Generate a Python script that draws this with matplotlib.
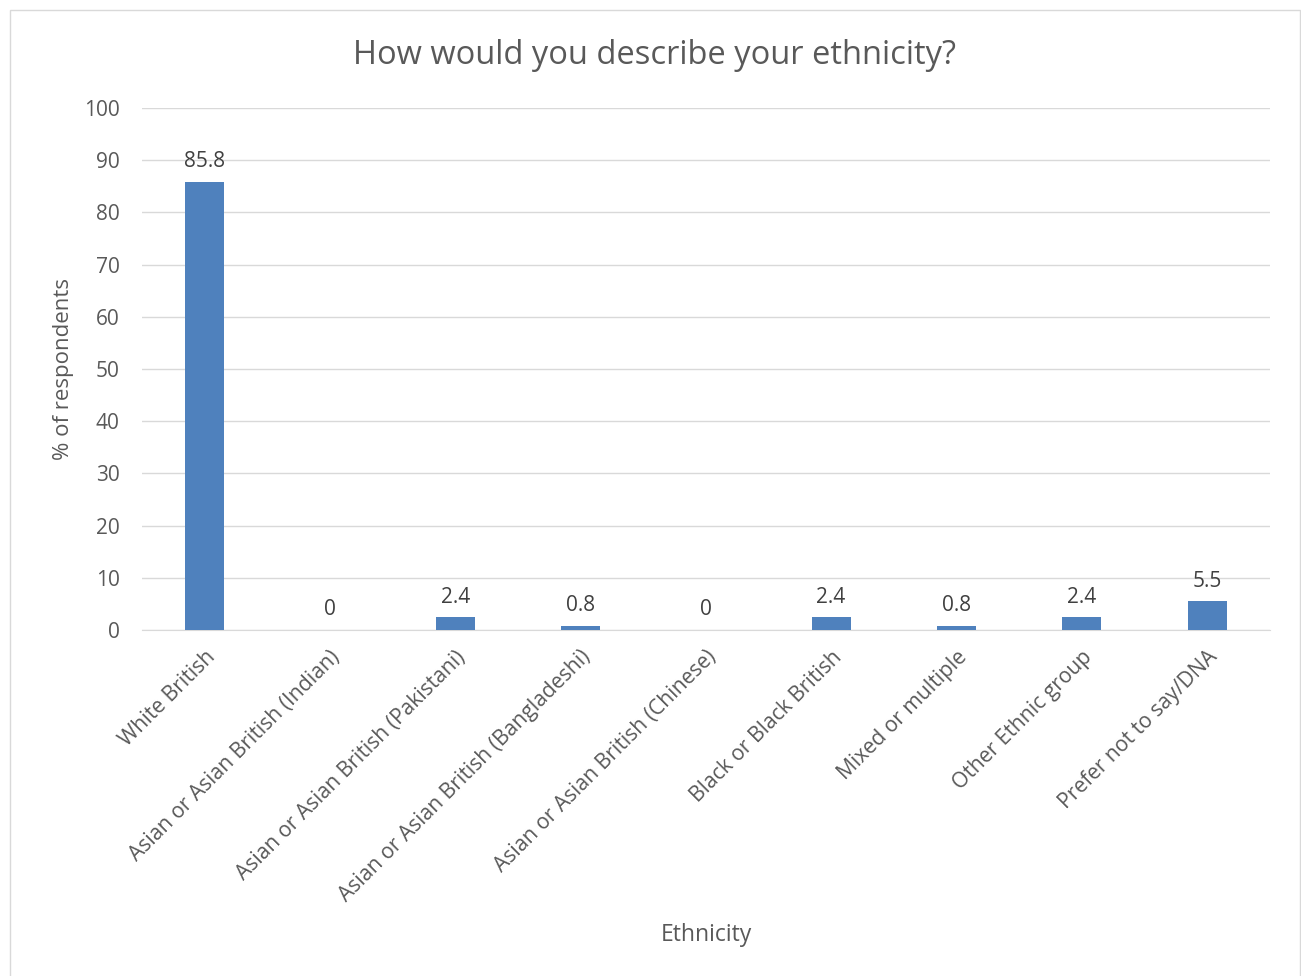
import matplotlib
matplotlib.use("Agg")
import matplotlib.pyplot as plt
from matplotlib.patches import Rectangle

# data
categories = ["White British", "Asian or Asian British (Indian)",
              "Asian or Asian British (Pakistani)", "Asian or Asian British (Bangladeshi)",
              "Asian or Asian British (Chinese)", "Black or Black British",
              "Mixed or multiple", "Other Ethnic group", "Prefer not to say/DNA"]
values = [85.8, 0, 2.4, 0.8, 0, 2.4, 0.8, 2.4, 5.5]
labels = ["85.8", "0", "2.4", "0.8", "0", "2.4", "0.8", "2.4", "5.5"]
yticks = [0, 10, 20, 30, 40, 50, 60, 70, 80, 90, 100]

plt.rcParams['font.family'] = ['Open Sans', 'DejaVu Sans']
txt = '#595959'

fig = plt.figure(figsize=(13.01, 9.76), dpi=100)
fig.patches.append(Rectangle((0.0077, -0.01), 0.9915, 1.0, transform=fig.transFigure,
                             fill=False, edgecolor='#D9D9D9', linewidth=1))
ax = fig.add_axes([0.109, 0.3545, 0.867, 0.5348])

x = range(len(categories))
ax.bar(x, values, width=0.31, color='#4F81BD', zorder=3)
for i, v in enumerate(values):
    ax.annotate(labels[i], (i, v), xytext=(0, 7), textcoords='offset points',
                ha='center', va='bottom', fontsize=15, color='#404040')

ax.set_xlim(-0.5, len(categories) - 0.5)
ax.set_ylim(0, 100)
ax.set_yticks(yticks)
ax.set_xticks(list(x))
ax.set_xticklabels(categories, rotation=45, ha='right', rotation_mode='anchor',
                   fontsize=15.2, color=txt)
ax.tick_params(axis='y', labelsize=15, labelcolor=txt, length=0, pad=16)
ax.tick_params(axis='x', length=0, pad=12)
ax.grid(axis='y', color='#D9D9D9', linewidth=1, zorder=0)
for s in ['top', 'right', 'left']:
    ax.spines[s].set_visible(False)
ax.spines['bottom'].set_color('#D9D9D9')

fig.text(0.503, 0.943, "How would you describe your ethnicity?", ha='center', va='center',
         fontsize=23.5, color=txt)
ax.set_ylabel("% of respondents", fontsize=16, color=txt)
ax.yaxis.set_label_coords(-0.06, 0.5)
fig.text(0.543, 0.042, "Ethnicity", ha='center', va='center', fontsize=16.5, color=txt)

fig.savefig("out.png", dpi=100)
